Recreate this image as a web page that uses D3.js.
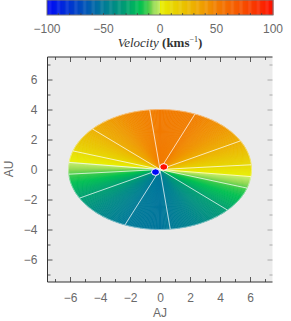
<!DOCTYPE html>
<html>
<head>
<meta charset="utf-8">
<script src="https://cdn.jsdelivr.net/npm/d3@7"></script>
<style>
  body { margin: 0; background: #fff; }
  svg { display: block; }
</style>
</head>
<body>
<svg id="chart" width="291" height="321"></svg>
<script>
// colour table (velocity, km/s -> colour)
const cbValues = [-100, -75, -50, -30, -18, -12, -6, -0.01, 0, 12, 26, 41, 50, 60, 71, 85, 100];
const cbColors = ['#0008f8', '#0040c8', '#007a98', '#00a070', '#00c052', '#30c848', '#90d850', '#c8ee68',
                  '#e8f000', '#e8d400', '#ecb800', '#f09600', '#f27e00', '#f46a00', '#f65400', '#f93400', '#ff1000'];
const cbTicks = [-100, -50, 0, 50, 100];

// line-of-sight velocity around the disk (deprojected azimuth, deg)
const azimuth  = [0, 22.5, 45, 67.5, 90, 112.5, 135, 157.5, 180, 202.5, 225, 247.5, 270, 292.5, 315, 337.5, 360];
const velocity = [6, 26, 41, 50, 52, 45, 32, 14, -6, -26, -41, -50, -52, -45, -32, -14, 6];
const contourLevels = [-50, -30, -10, 0, 10, 30, 50];

// disk semi-axes (AU) and the two central peaks
const diskA = 6.1, diskB = 4.0;
const peaks = [
  { x: 0.25, y: 0.17, v: 100 },
  { x: -0.3, y: -0.17, v: -100 }
];

const xMajor = [-6, -4, -2, 0, 2, 4, 6];
const xMinor = [-7, -5, -3, -1, 1, 3, 5, 7];

const svg = d3.select('#chart');
const plot = { left: 47.5, right: 272.5, top: 57, bottom: 282 };

const colorScale = d3.scaleLinear().domain(cbValues).range(cbColors).clamp(true);
const vAt = d3.scaleLinear().domain(azimuth).range(velocity);

const x = d3.scaleLinear().domain([-7.5, 7.5]).range([plot.left, plot.right]);
const y = d3.scaleLinear().domain([-7.5, 7.5]).range([plot.bottom, plot.top]);

const fontSans = 'Liberation Sans, Arial, sans-serif';
const tickColor = '#6a6a6a';

// ---------- colour bar ----------
const cbX = d3.scaleLinear().domain([-100, 100]).range([47, 273]);
const cb = svg.append('g').attr('class', 'colorbar');
cb.selectAll('rect.cell')
  .data(d3.range(-100, 100, 1))
  .enter()
  .append('rect')
    .attr('class', 'cell')
    .attr('x', d => cbX(d))
    .attr('y', 0)
    .attr('width', cbX(1) - cbX(0) + 0.4)
    .attr('height', 15)
    .attr('fill', d => colorScale(d + 0.5));
cb.append('rect')
  .attr('x', 47).attr('y', 0).attr('width', 226).attr('height', 15)
  .attr('fill', 'none').attr('stroke', '#777').attr('stroke-width', 1);
cb.selectAll('line.cbt')
  .data(d3.range(-90, 100, 10))
  .enter()
  .append('line')
    .attr('class', 'cbt')
    .attr('x1', d => cbX(d)).attr('x2', d => cbX(d))
    .attr('y1', 13).attr('y2', 15)
    .attr('stroke', '#444').attr('stroke-width', 0.8);
cb.selectAll('text')
  .data(cbTicks)
  .enter()
  .append('text')
    .attr('x', d => cbX(d))
    .attr('y', 33)
    .attr('text-anchor', 'middle')
    .style('font-family', fontSans)
    .style('font-size', '12px')
    .attr('fill', tickColor)
    .text(d => d3.format('d')(d));

const title = cb.append('text')
  .attr('x', 160).attr('y', 47)
  .attr('text-anchor', 'middle')
  .style('font-family', 'Liberation Serif, serif')
  .style('font-size', '13px')
  .attr('fill', '#333');
title.append('tspan').style('font-style', 'italic').text('Velocity ');
title.append('tspan').style('font-weight', 'bold').text('(kms');
title.append('tspan').attr('dy', -5).style('font-size', '8px').text('−1');
title.append('tspan').attr('dy', 5).style('font-weight', 'bold').text(')');

// ---------- plot area ----------
svg.append('rect')
  .attr('x', plot.left).attr('y', plot.top)
  .attr('width', plot.right - plot.left).attr('height', plot.bottom - plot.top)
  .attr('fill', '#ebebeb');

const edge = phi => {
  const r = phi * Math.PI / 180;
  return [x(diskA * Math.cos(r)), y(diskB * Math.sin(r))];
};

const disk = svg.append('g').attr('class', 'disk');
const step = 1;
disk.selectAll('path.wedge')
  .data(d3.range(0, 360, step))
  .enter()
  .append('path')
    .attr('class', 'wedge')
    .attr('d', d => {
      const p0 = edge(d), p1 = edge(d + step);
      return `M${x(0)},${y(0)}L${p0[0]},${p0[1]}L${p1[0]},${p1[1]}Z`;
    })
    .attr('fill', d => colorScale(vAt(d + step / 2)))
    .attr('stroke', d => colorScale(vAt(d + step / 2)))
    .attr('stroke-width', 0.6);

// contour crossings found from the azimuth profile
const crossings = [];
contourLevels.forEach(level => {
  for (let p = 0; p < 360; p += 0.05) {
    const a = vAt(p) - level, b = vAt(p + 0.05) - level;
    if (a === 0 || a * b < 0) crossings.push(p + 0.025);
  }
});

disk.selectAll('line.contour')
  .data(crossings)
  .enter()
  .append('line')
    .attr('class', 'contour')
    .attr('x1', x(0)).attr('y1', y(0))
    .attr('x2', d => edge(d)[0]).attr('y2', d => edge(d)[1])
    .attr('stroke', '#fff')
    .attr('stroke-opacity', 0.8)
    .attr('stroke-width', 0.9);

disk.append('ellipse')
  .attr('cx', x(0)).attr('cy', y(0))
  .attr('rx', x(diskA) - x(0)).attr('ry', y(0) - y(diskB))
  .attr('fill', 'none')
  .attr('stroke', '#fff').attr('stroke-opacity', 0.5).attr('stroke-width', 0.8);

disk.selectAll('ellipse.peak')
  .data(peaks)
  .enter()
  .append('ellipse')
    .attr('class', 'peak')
    .attr('cx', d => x(d.x)).attr('cy', d => y(d.y))
    .attr('rx', 4).attr('ry', 3.3)
    .attr('fill', d => colorScale(d.v))
    .attr('stroke', '#fff').attr('stroke-width', 1);

// ---------- axes ----------
function styleAxis(g) {
  g.select('.domain').remove();
  g.selectAll('.tick line').attr('stroke', '#333').attr('stroke-width', 0.8);
  g.selectAll('.tick text')
    .style('font-family', fontSans)
    .style('font-size', '12px')
    .attr('fill', tickColor);
}

svg.append('g')
  .attr('transform', `translate(0,${plot.bottom})`)
  .call(d3.axisBottom(x).tickValues(xMajor).tickSize(-5).tickPadding(11).tickFormat(d3.format('d')))
  .call(styleAxis);
svg.append('g')
  .attr('transform', `translate(0,${plot.bottom})`)
  .call(d3.axisBottom(x).tickValues(xMinor).tickSize(-3).tickFormat(''))
  .call(styleAxis);
svg.append('g')
  .attr('transform', `translate(0,${plot.top})`)
  .call(d3.axisTop(x).tickValues(xMajor).tickSize(-5).tickFormat(''))
  .call(styleAxis);
svg.append('g')
  .attr('transform', `translate(0,${plot.top})`)
  .call(d3.axisTop(x).tickValues(xMinor).tickSize(-3).tickFormat(''))
  .call(styleAxis);

svg.append('g')
  .attr('transform', `translate(${plot.left},0)`)
  .call(d3.axisLeft(y).tickValues(xMajor).tickSize(-5).tickPadding(10).tickFormat(d3.format('d')))
  .call(styleAxis);
svg.append('g')
  .attr('transform', `translate(${plot.left},0)`)
  .call(d3.axisLeft(y).tickValues(xMinor).tickSize(-3).tickFormat(''))
  .call(styleAxis);
svg.append('g')
  .attr('transform', `translate(${plot.right},0)`)
  .call(d3.axisRight(y).tickValues(xMajor).tickSize(-5).tickFormat(''))
  .call(styleAxis)
  .selectAll('.tick line').attr('stroke', '#999');
svg.append('g')
  .attr('transform', `translate(${plot.right},0)`)
  .call(d3.axisRight(y).tickValues(xMinor).tickSize(-3).tickFormat(''))
  .call(styleAxis)
  .selectAll('.tick line').attr('stroke', '#999');

// frame
svg.append('path')
  .attr('d', `M${plot.right},${plot.top}H${plot.left}V${plot.bottom}H${plot.right}`)
  .attr('fill', 'none')
  .attr('stroke', '#333')
  .attr('stroke-width', 1);

svg.append('text')
  .attr('x', 160).attr('y', 317)
  .attr('text-anchor', 'middle')
  .style('font-family', fontSans).style('font-size', '12px')
  .attr('fill', tickColor)
  .text('AJ');
svg.append('text')
  .attr('transform', 'translate(13,169) rotate(-90)')
  .attr('text-anchor', 'middle')
  .style('font-family', fontSans).style('font-size', '12px')
  .attr('fill', tickColor)
  .text('AU');
</script>
</body>
</html>
